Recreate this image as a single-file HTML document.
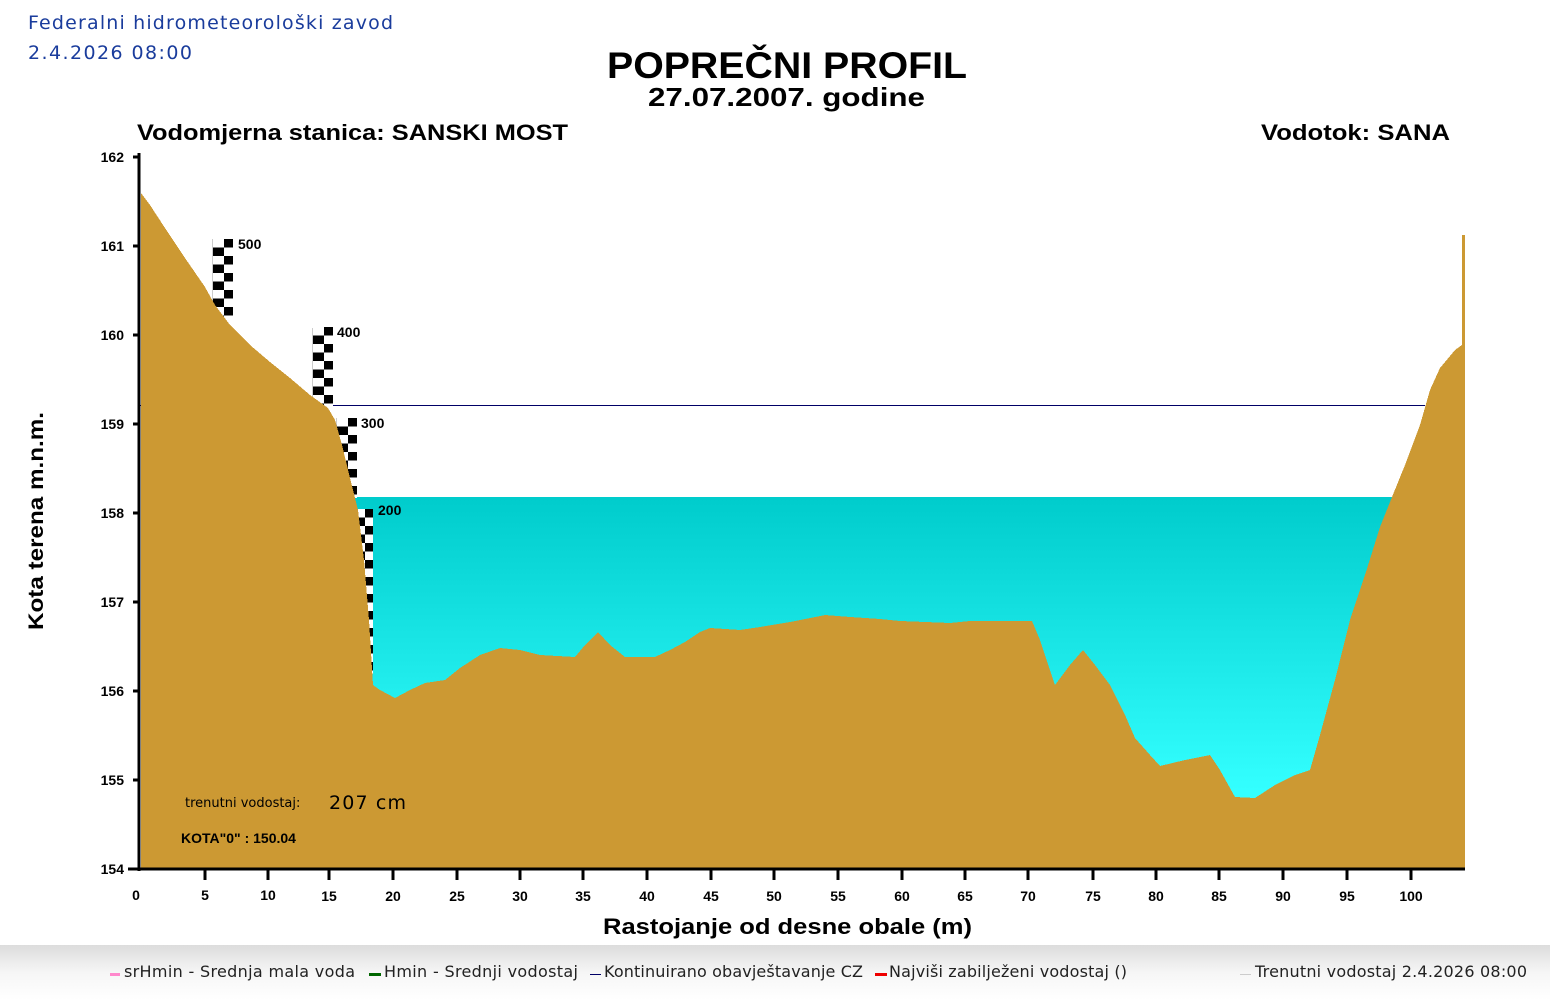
<!DOCTYPE html>
<html><head><meta charset="utf-8"><style>
body{margin:0;width:1550px;height:1000px;background:#fff;overflow:hidden;font-family:"Liberation Sans",sans-serif}
</style></head><body>
<svg width="1550" height="1000" xmlns="http://www.w3.org/2000/svg" font-family="Liberation Sans, sans-serif">
<defs>
<linearGradient id="w" x1="0" y1="497" x2="0" y2="790" gradientUnits="userSpaceOnUse"><stop offset="0" stop-color="#00cccc"/><stop offset="1" stop-color="#33ffff"/></linearGradient>
<linearGradient id="lg" x1="0" y1="0" x2="0" y2="1"><stop offset="0" stop-color="#dcdcdc"/><stop offset="0.5" stop-color="#f6f6f6"/><stop offset="1" stop-color="#ffffff"/></linearGradient>
<pattern id="ck" width="20" height="17" patternUnits="userSpaceOnUse"><rect width="20" height="17" fill="#fff"/><rect x="11" y="0" width="9" height="8.5" fill="#000"/><rect x="0" y="8.5" width="11" height="8.5" fill="#000"/></pattern>
<pattern id="ck2" width="16" height="17" patternUnits="userSpaceOnUse"><rect width="16" height="17" fill="#fff"/><rect x="8" y="0" width="8" height="8.5" fill="#000"/><rect x="0" y="8.5" width="8" height="8.5" fill="#000"/></pattern>
</defs>
<text x="28" y="29" font-family="DejaVu Sans, sans-serif" font-size="19" fill="#1a3c9c" textLength="365">Federalni hidrometeorološki zavod</text>
<text x="28" y="59" font-family="DejaVu Sans, sans-serif" font-size="19" fill="#1a3c9c" textLength="164">2.4.2026 08:00</text>
<text x="607" y="78" font-size="37" font-weight="bold" textLength="360" lengthAdjust="spacingAndGlyphs">POPREČNI PROFIL</text>
<text x="648" y="106" font-size="26" font-weight="bold" textLength="277" lengthAdjust="spacingAndGlyphs">27.07.2007. godine</text>
<text x="137" y="140" font-size="22" font-weight="bold" textLength="431" lengthAdjust="spacingAndGlyphs">Vodomjerna stanica: SANSKI MOST</text>
<text x="1261" y="140" font-size="22" font-weight="bold" textLength="189" lengthAdjust="spacingAndGlyphs">Vodotok: SANA</text>
<rect x="355" y="497" width="1040" height="368" fill="url(#w)"/>
<line x1="139" y1="405.5" x2="1425" y2="405.5" stroke="#000066" stroke-width="1" shape-rendering="crispEdges"/>
<line x1="213" y1="239" x2="213" y2="318" stroke="#999"/>
<g transform="translate(213,239)"><rect width="20" height="80" fill="url(#ck)"/></g>
<line x1="313" y1="328" x2="313" y2="407" stroke="#999"/>
<g transform="translate(313,327)"><rect width="20" height="80" fill="url(#ck)"/></g>
<line x1="337" y1="418" x2="337" y2="497" stroke="#999"/>
<g transform="translate(337,418)"><rect width="20" height="80" fill="url(#ck)"/></g>
<g transform="translate(357,509)"><rect width="16" height="165" fill="url(#ck2)"/></g>
<g font-size="14" font-weight="bold"><text x="238" y="249">500</text><text x="337" y="337">400</text><text x="361" y="428">300</text><text x="378" y="515">200</text></g>
<polygon fill="#cc9933" shape-rendering="crispEdges" points="141,193 150,205 165,228 185,258 205,287 215,305 230,325 250,345 270,362 290,378 310,395 328,408 335,420 342,445 350,478 358,510 364,560 369,620 373,685 380,690 395,698 410,690 425,683 445,680 460,668 480,655 500,648 520,650 540,655 575,657 585,645 598,632 610,645 625,657 655,657 670,650 685,642 700,632 710,628 740,630 760,627 790,622 825,615 850,617 880,619 900,621 950,623 970,621 1032,621 1040,640 1055,685 1070,665 1083,650 1095,665 1110,685 1125,715 1135,738 1150,755 1160,766 1185,760 1210,755 1220,770 1235,797 1255,798 1275,785 1295,775 1310,770 1320,735 1335,680 1350,620 1365,575 1380,527 1392,497 1405,465 1420,425 1430,390 1440,368 1455,350 1462,345 1462,235 1465,235 1465,869 141,869"/>
<line x1="139" y1="153" x2="139" y2="871" stroke="#000" stroke-width="3"/>
<line x1="128" y1="869" x2="1465" y2="869" stroke="#000" stroke-width="3"/>
<g stroke="#000" stroke-width="3">
<line x1="133" y1="157" x2="139" y2="157"/><line x1="133" y1="246" x2="139" y2="246"/><line x1="133" y1="335" x2="139" y2="335"/><line x1="133" y1="424" x2="139" y2="424"/><line x1="133" y1="513" x2="139" y2="513"/><line x1="133" y1="602" x2="139" y2="602"/><line x1="133" y1="691" x2="139" y2="691"/><line x1="133" y1="780" x2="139" y2="780"/>
</g>
<g stroke="#000" stroke-width="3">
<line x1="205" y1="869" x2="205" y2="880"/><line x1="268" y1="869" x2="268" y2="880"/><line x1="329" y1="869" x2="329" y2="880"/><line x1="393" y1="869" x2="393" y2="880"/><line x1="457" y1="869" x2="457" y2="880"/><line x1="520" y1="869" x2="520" y2="880"/><line x1="583" y1="869" x2="583" y2="880"/><line x1="647" y1="869" x2="647" y2="880"/><line x1="711" y1="869" x2="711" y2="880"/><line x1="774" y1="869" x2="774" y2="880"/><line x1="838" y1="869" x2="838" y2="880"/><line x1="902" y1="869" x2="902" y2="880"/><line x1="965" y1="869" x2="965" y2="880"/><line x1="1028" y1="869" x2="1028" y2="880"/><line x1="1093" y1="869" x2="1093" y2="880"/><line x1="1156" y1="869" x2="1156" y2="880"/><line x1="1219" y1="869" x2="1219" y2="880"/><line x1="1283" y1="869" x2="1283" y2="880"/><line x1="1347" y1="869" x2="1347" y2="880"/><line x1="1411" y1="869" x2="1411" y2="880"/>
</g>
<g font-size="14" font-weight="bold" text-anchor="end">
<text x="124" y="162">162</text><text x="124" y="251">161</text><text x="124" y="340">160</text><text x="124" y="429">159</text><text x="124" y="518">158</text><text x="124" y="607">157</text><text x="124" y="696">156</text><text x="124" y="785">155</text><text x="124" y="874">154</text>
</g>
<g font-size="14" font-weight="bold" text-anchor="middle">
<text x="136" y="900">0</text><text x="205" y="900">5</text><text x="268" y="900">10</text><text x="329" y="901">15</text><text x="393" y="901">20</text><text x="457" y="901">25</text><text x="520" y="901">30</text><text x="583" y="901">35</text><text x="647" y="901">40</text><text x="711" y="901">45</text><text x="774" y="901">50</text><text x="838" y="901">55</text><text x="902" y="901">60</text><text x="965" y="901">65</text><text x="1028" y="901">70</text><text x="1093" y="901">75</text><text x="1156" y="901">80</text><text x="1219" y="901">85</text><text x="1283" y="901">90</text><text x="1347" y="901">95</text><text x="1411" y="901">100</text>
</g>
<text x="603" y="934" font-size="22" font-weight="bold" textLength="369" lengthAdjust="spacingAndGlyphs">Rastojanje od desne obale (m)</text>
<text transform="translate(43,630) rotate(-90)" font-size="21" font-weight="bold" textLength="218" lengthAdjust="spacingAndGlyphs">Kota terena m.n.m.</text>
<text x="185" y="807" font-family="DejaVu Sans, sans-serif" font-size="13">trenutni vodostaj:</text>
<text x="329" y="809" font-family="DejaVu Sans, sans-serif" font-size="19" textLength="77">207 cm</text>
<text x="181" y="843" font-size="14" font-weight="bold">KOTA"0" : 150.04</text>
<rect x="0" y="945" width="1550" height="55" fill="url(#lg)"/>
<g font-family="DejaVu Sans, sans-serif" font-size="16" fill="#222">
<rect x="110" y="973" width="10" height="3" fill="#ff88cc"/><text x="124" y="977" textLength="231">srHmin - Srednja mala voda</text>
<rect x="369" y="973" width="12" height="3" fill="#006600"/><text x="384" y="977" textLength="194">Hmin - Srednji vodostaj</text>
<rect x="590" y="974" width="11" height="1" fill="#000066"/><text x="604" y="977" textLength="259">Kontinuirano obavještavanje CZ</text>
<rect x="875" y="973" width="12" height="3" fill="#ee0000"/><text x="889" y="977" textLength="238">Najviši zabilježeni vodostaj ()</text>
<rect x="1240" y="974" width="11" height="1" fill="#ccc"/><text x="1255" y="977" textLength="272">Trenutni vodostaj 2.4.2026 08:00</text>
</g>
</svg>
</body></html>
